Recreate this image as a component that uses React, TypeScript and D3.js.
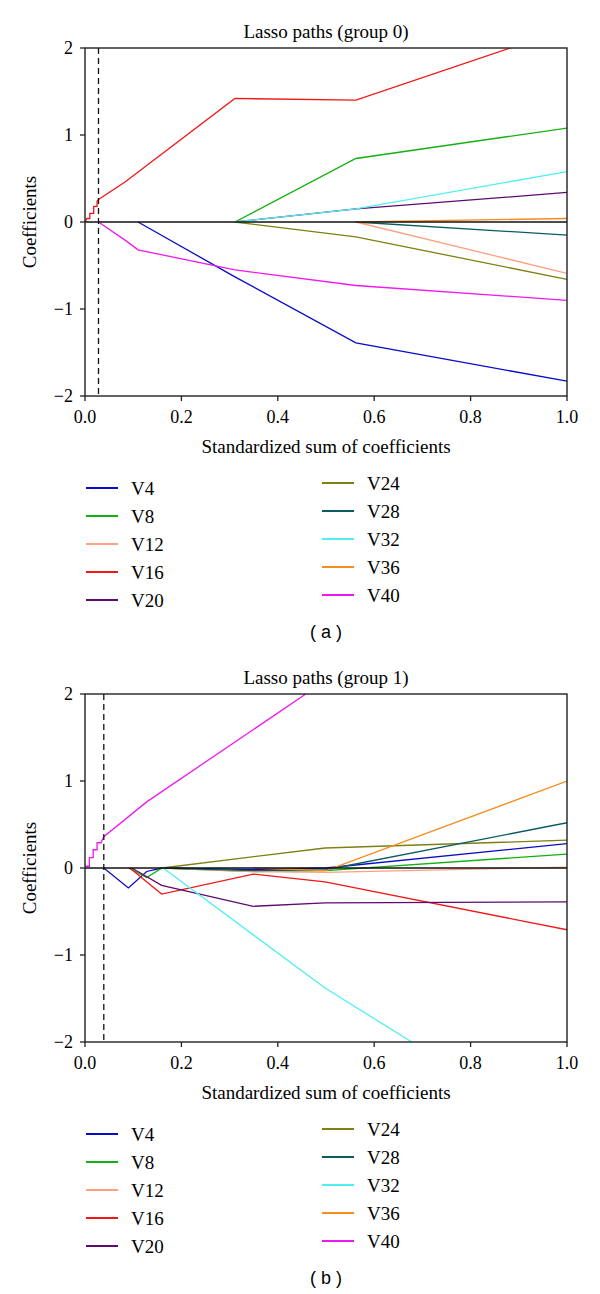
import * as d3 from "d3";

type Pt = [number, number];

const names = ["V4", "V8", "V12", "V16", "V20", "V24", "V28", "V32", "V36", "V40"];
const colors = ["#0a0ac8", "#12b012", "#ffa080", "#f01818", "#5e0a6e", "#7f7f12", "#0a5c62", "#50f0f0", "#f88c1e", "#f018f0"];

const xTicks = [0, 0.2, 0.4, 0.6, 0.8, 1.0];
const yTicks = [-2, -1, 0, 1, 2];

// group 0 – coefficient paths, [standardized sum, coefficient]
const g0V4: Pt[] = [[0.11, 0], [0.311, -0.63], [0.562, -1.39], [1, -1.83]];
const g0V8: Pt[] = [[0.311, 0], [0.562, 0.73], [1, 1.08]];
const g0V12: Pt[] = [[0.562, 0], [1, -0.59]];
const g0V16: Pt[] = [[0, 0], [0.004, 0.04], [0.01, 0.04], [0.01, 0.1], [0.018, 0.1], [0.018, 0.18], [0.025, 0.18], [0.025, 0.24], [0.028, 0.26], [0.083, 0.46], [0.311, 1.42], [0.562, 1.4], [1, 2.22]];
const g0V20: Pt[] = [[0.311, 0], [0.562, 0.15], [1, 0.34]];
const g0V24: Pt[] = [[0.311, 0], [0.562, -0.17], [1, -0.66]];
const g0V28: Pt[] = [[0.562, 0], [1, -0.15]];
const g0V32: Pt[] = [[0.311, 0], [0.562, 0.15], [1, 0.58]];
const g0V36: Pt[] = [[0.562, 0], [1, 0.04]];
const g0V40: Pt[] = [[0.028, 0], [0.086, -0.22], [0.11, -0.32], [0.311, -0.55], [0.562, -0.73], [1, -0.9]];

// group 1
const g1V4: Pt[] = [[0.039, 0], [0.09, -0.23], [0.128, -0.04], [0.16, 0], [0.35, -0.02], [0.5, 0], [1, 0.28]];
const g1V8: Pt[] = [[0.09, 0], [0.128, -0.11], [0.16, 0], [0.35, -0.04], [0.5, -0.03], [1, 0.16]];
const g1V12: Pt[] = [[0.16, 0], [0.35, -0.04], [0.5, -0.05], [1, 0.01]];
const g1V16: Pt[] = [[0.093, 0], [0.159, -0.3], [0.349, -0.07], [0.498, -0.16], [1, -0.71]];
const g1V20: Pt[] = [[0.097, 0], [0.159, -0.2], [0.349, -0.44], [0.498, -0.4], [1, -0.39]];
const g1V24: Pt[] = [[0.16, 0], [0.498, 0.23], [1, 0.32]];
const g1V28: Pt[] = [[0.16, 0], [0.35, -0.03], [0.5, -0.02], [1, 0.52]];
const g1V32: Pt[] = [[0.162, 0], [0.498, -1.38], [0.678, -2.0], [0.7, -2.08]];
const g1V36: Pt[] = [[0.35, 0], [0.5, -0.03], [1, 1.0]];
const g1V40: Pt[] = [[0, 0.02], [0.009, 0.02], [0.009, 0.12], [0.017, 0.12], [0.017, 0.21], [0.025, 0.21], [0.025, 0.29], [0.033, 0.29], [0.039, 0.36], [0.128, 0.76], [0.458, 2.0], [0.5, 2.16]];

const group0 = [g0V4, g0V8, g0V12, g0V16, g0V20, g0V24, g0V28, g0V32, g0V36, g0V40];
const group1 = [g1V4, g1V8, g1V12, g1V16, g1V20, g1V24, g1V28, g1V32, g1V36, g1V40];
const cutoffs = [0.028, 0.039];

const SERIF = "'Liberation Serif', 'Times New Roman', serif";
const SANS = "'Liberation Sans', Arial, sans-serif";

function Panel({ oy, title, paths, cut, tag, id }: { oy: number; title: string; paths: Pt[][]; cut: number; tag: string; id: string }) {
  const L = 85, R = 567, T = 48, B = 396;
  const x = d3.scaleLinear().domain([0, 1]).range([L, R]);
  const y = d3.scaleLinear().domain([-2, 2]).range([B, T]);
  const line = d3.line<Pt>().x((d) => x(d[0])).y((d) => y(d[1]));
  const cx = (L + R) / 2;
  return (
    <g transform={`translate(0,${oy})`}>
      <defs>
        <clipPath id={id}><rect x={L} y={T} width={R - L} height={B - T} /></clipPath>
      </defs>
      <text x={cx} y={38} textAnchor="middle" fontFamily={SERIF} fontSize={19}>{title}</text>
      <g clipPath={`url(#${id})`}>
        {paths.map((p, i) => (
          <path key={i} d={line(p) ?? ""} fill="none" stroke={colors[i]} strokeWidth={1.3} />
        ))}
        <line x1={L} x2={R} y1={y(0)} y2={y(0)} stroke="#111" strokeWidth={1.4} />
        <line x1={x(cut)} x2={x(cut)} y1={T} y2={B} stroke="#111" strokeWidth={1.3} strokeDasharray="6,4" />
      </g>
      <rect x={L} y={T} width={R - L} height={B - T} fill="none" stroke="#222" strokeWidth={1.4} />
      {yTicks.map((t) => (
        <g key={t}>
          <line x1={L - 5} x2={L} y1={y(t)} y2={y(t)} stroke="#222" strokeWidth={1.3} />
          <text x={L - 12} y={y(t) + 6} textAnchor="end" fontFamily={SERIF} fontSize={18}>{t < 0 ? `\u2212${-t}` : `${t}`}</text>
        </g>
      ))}
      {xTicks.map((t) => (
        <g key={t}>
          <line x1={x(t)} x2={x(t)} y1={B} y2={B + 5} stroke="#222" strokeWidth={1.3} />
          <text x={x(t)} y={423} textAnchor="middle" fontFamily={SERIF} fontSize={18}>{t.toFixed(1)}</text>
        </g>
      ))}
      <text x={cx} y={453} textAnchor="middle" fontFamily={SERIF} fontSize={19}>Standardized sum of coefficients</text>
      <text transform={`translate(36,${(T + B) / 2}) rotate(-90)`} textAnchor="middle" fontFamily={SERIF} fontSize={19}>Coefficients</text>
      {names.map((n, i) => {
        const col = i < 5 ? 0 : 1;
        const r = i % 5;
        const lx = col === 0 ? 86 : 322;
        const ry = (col === 0 ? 488 : 483) + r * 28;
        return (
          <g key={n}>
            <line x1={lx} x2={lx + 32} y1={ry} y2={ry} stroke={colors[i]} strokeWidth={2} />
            <text x={lx + 45} y={ry + 6.5} fontFamily={SERIF} fontSize={19}>{n}</text>
          </g>
        );
      })}
      <text x={cx} y={638} textAnchor="middle" fontFamily={SANS} fontSize={18}>{tag}</text>
    </g>
  );
}

export default function App() {
  return (
    <>
      <style>{"body{margin:0;background:#fff}"}</style>
      <svg width={600} height={1294} viewBox="0 0 600 1294" style={{ display: "block", background: "#fff" }}>
        <Panel oy={0} title="Lasso paths (group 0)" paths={group0} cut={cutoffs[0]} tag="( a )" id="clipA" />
        <Panel oy={646} title="Lasso paths (group 1)" paths={group1} cut={cutoffs[1]} tag="( b )" id="clipB" />
      </svg>
    </>
  );
}
